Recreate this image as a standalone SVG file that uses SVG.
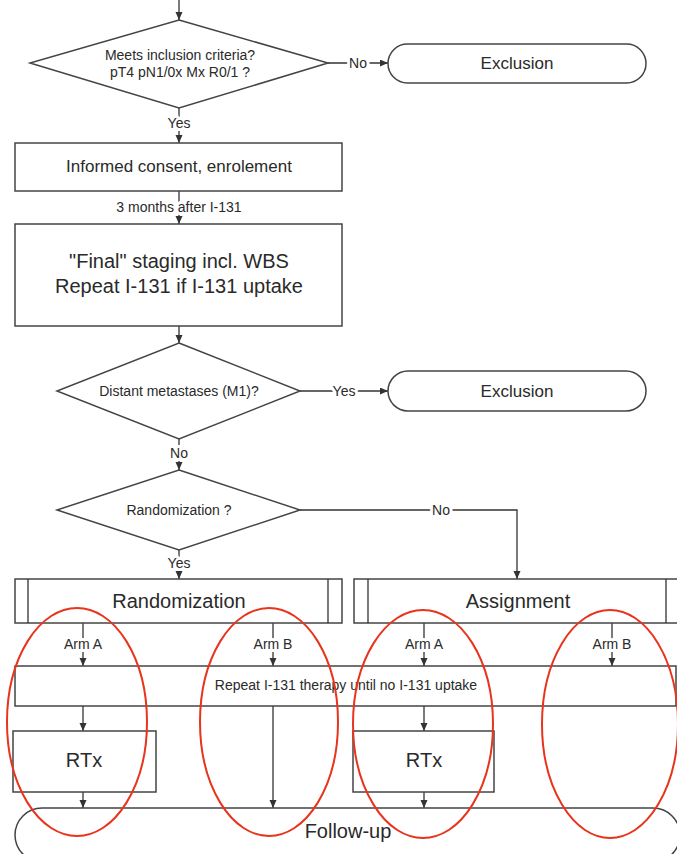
<svg xmlns="http://www.w3.org/2000/svg" width="677" height="854" viewBox="0 0 677 854">
<defs>
<marker id="arr" markerUnits="userSpaceOnUse" markerWidth="8" markerHeight="8" refX="8" refY="3.5" orient="auto">
<path d="M0,0 L8,3.5 L0,7 z" fill="#333"/>
</marker>
<style>
.box{fill:#fff;stroke:#444;stroke-width:1.5}
.ln{fill:none;stroke:#333;stroke-width:1.3}
.t{font-family:"Liberation Sans",Arial,sans-serif;fill:#2a2a2a;text-anchor:middle}
.s{font-size:14px}
.m{font-size:17px}
.l{font-size:20px}
.lbl{font-family:"Liberation Sans",Arial,sans-serif;font-size:14px;fill:#2a2a2a;text-anchor:middle;stroke:#fff;stroke-width:6;paint-order:stroke;stroke-linejoin:round}
.red{fill:none;stroke:#e8341c;stroke-width:2}
</style>
</defs>
<rect width="677" height="854" fill="#fff"/>

<g id="connectors">
<path class="ln" d="M179,0 V20" marker-end="url(#arr)"/>
<path class="ln" d="M328,63 H388" marker-end="url(#arr)"/>
<path class="ln" d="M179,108 V143" marker-end="url(#arr)"/>
<path class="ln" d="M179,191 V224" marker-end="url(#arr)"/>
<path class="ln" d="M179,326 V343" marker-end="url(#arr)"/>
<path class="ln" d="M300,391 H388" marker-end="url(#arr)"/>
<path class="ln" d="M179,439 V470" marker-end="url(#arr)"/>
<path class="ln" d="M179,550 V579" marker-end="url(#arr)"/>
<path class="ln" d="M300,510 H517 V579" marker-end="url(#arr)"/>
<path class="ln" d="M83,623 V666" marker-end="url(#arr)"/>
<path class="ln" d="M273,623 V666" marker-end="url(#arr)"/>
<path class="ln" d="M424,623 V666" marker-end="url(#arr)"/>
<path class="ln" d="M612,623 V666" marker-end="url(#arr)"/>
<path class="ln" d="M83,706 V731" marker-end="url(#arr)"/>
<path class="ln" d="M83,792 V808" marker-end="url(#arr)"/>
<path class="ln" d="M273,706 V808" marker-end="url(#arr)"/>
<path class="ln" d="M424,706 V731" marker-end="url(#arr)"/>
<path class="ln" d="M424,792 V808" marker-end="url(#arr)"/>
<text class="lbl" x="358" y="68">No</text>
<text class="lbl" x="179" y="128">Yes</text>
<text class="lbl" x="179" y="212">3 months after I-131</text>
<text class="lbl" x="344" y="396">Yes</text>
<text class="lbl" x="179" y="458">No</text>
<text class="lbl" x="441" y="515">No</text>
<text class="lbl" x="179" y="568">Yes</text>
<text class="lbl" x="83" y="649">Arm A</text>
<text class="lbl" x="273" y="649">Arm B</text>
<text class="lbl" x="424" y="649">Arm A</text>
<text class="lbl" x="612" y="649">Arm B</text>
</g>

<g id="d-inclusion">
<path class="box" d="M179,20 L328,63 L179,108 L30,63 Z"/>
<text class="t s" x="180" y="60">Meets inclusion criteria?</text>
<text class="t s" x="180" y="77">pT4 pN1/0x Mx R0/1 ?</text>
</g>

<g id="exclusion-1">
<rect class="box" x="388" y="44" width="258" height="39" rx="19.5"/>
<text class="t m" x="517" y="69">Exclusion</text>
</g>

<g id="consent">
<rect class="box" x="15" y="143" width="327" height="48"/>
<text class="t m" x="179" y="172">Informed consent, enrolement</text>
</g>

<g id="staging">
<rect class="box" x="15" y="224" width="327" height="102"/>
<text class="t l" x="179" y="268">"Final" staging incl. WBS</text>
<text class="t l" x="179" y="293">Repeat I-131 if I-131 uptake</text>
</g>

<g id="d-metastases">
<path class="box" d="M179,343 L300,391 L179,439 L57,391 Z"/>
<text class="t s" x="179" y="396">Distant metastases (M1)?</text>
</g>

<g id="exclusion-2">
<rect class="box" x="388" y="371" width="258" height="40" rx="20"/>
<text class="t m" x="517" y="397">Exclusion</text>
</g>

<g id="d-randomization">
<path class="box" d="M179,470 L300,510 L179,550 L57,510 Z"/>
<text class="t s" x="179" y="515">Randomization ?</text>
</g>

<g id="randomization">
<rect class="box" x="15" y="579" width="327" height="44"/>
<path class="ln" d="M28,579 V623 M328,579 V623"/>
<text class="t l" x="179" y="608">Randomization</text>
</g>

<g id="assignment">
<rect class="box" x="354" y="579" width="326" height="44"/>
<path class="ln" d="M368,579 V623 M666,579 V623"/>
<text class="t l" x="518" y="608">Assignment</text>
</g>

<g id="repeat">
<rect class="box" x="15" y="666" width="661" height="40"/>
<text class="t s" x="346" y="690">Repeat I-131 therapy until no I-131 uptake</text>
</g>

<g id="rtx-1">
<rect class="box" x="13" y="731" width="143" height="61"/>
<text class="t l" x="84" y="767">RTx</text>
</g>

<g id="rtx-2">
<rect class="box" x="353" y="731" width="141" height="61"/>
<text class="t l" x="424" y="767">RTx</text>
</g>

<g id="follow-up">
<rect class="box" x="15" y="808" width="665" height="54" rx="27"/>
<text class="t l" x="348" y="838">Follow-up</text>
</g>

<g id="highlights">
<ellipse class="red" cx="77" cy="722" rx="70" ry="114"/>
<ellipse class="red" cx="269" cy="722" rx="69" ry="114"/>
<ellipse class="red" cx="423" cy="724" rx="70" ry="114"/>
<ellipse class="red" cx="610" cy="724" rx="68" ry="114"/>
</g>
</svg>
